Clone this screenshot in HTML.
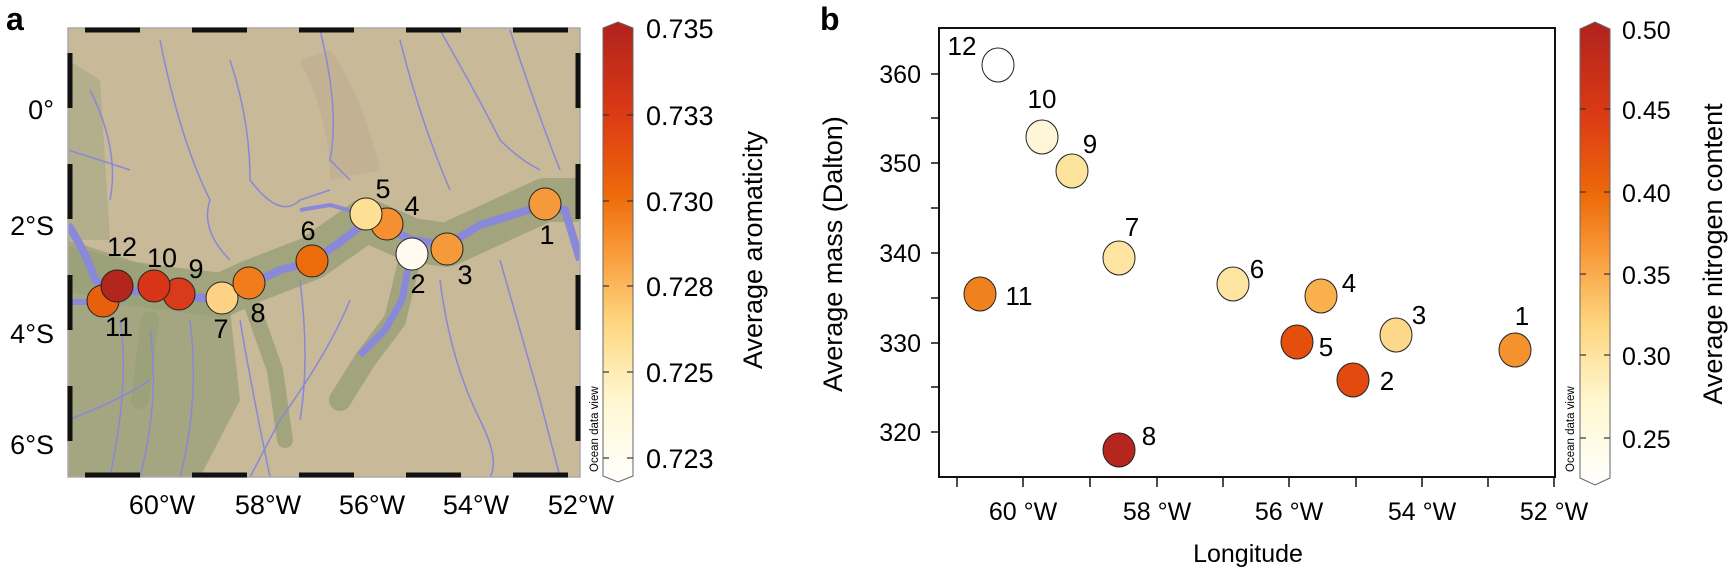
<!DOCTYPE html>
<html><head><meta charset="utf-8"><style>
html,body{margin:0;padding:0;background:#fff;}
svg{display:block;font-family:"Liberation Sans",Arial,sans-serif;}
</style></head><body>
<svg width="1734" height="568" viewBox="0 0 1734 568" xmlns="http://www.w3.org/2000/svg">
<defs>
<linearGradient id="cb" x1="0" y1="1" x2="0" y2="0">
<stop offset="0" stop-color="#ffffff"/>
<stop offset="0.18" stop-color="#fff7d0"/>
<stop offset="0.35" stop-color="#fed57e"/>
<stop offset="0.5" stop-color="#f99a3a"/>
<stop offset="0.62" stop-color="#ee6c0a"/>
<stop offset="0.8" stop-color="#dc3a14"/>
<stop offset="1" stop-color="#b0221e"/>
</linearGradient>
<clipPath id="mapclip"><rect x="68" y="28" width="512" height="449"/></clipPath>
</defs>

<!-- Panel a -->
<text x="6" y="30" font-size="32" font-weight="bold">a</text>
<g clip-path="url(#mapclip)">
<rect x="68" y="28" width="512" height="449" fill="#c8b998"/>
<path d="M300 60 Q330 120 330 180 L380 170 Q360 90 330 50 Z" fill="#b8a58a" opacity="0.4"/>
<path d="M68 240 L130 260 L190 285 L230 310 L240 400 L200 477 L68 477 Z" fill="#9ea27c" opacity="0.85"/>
<path d="M68 60 L100 80 L110 240 L68 240 Z" fill="#a5a683" opacity="0.6"/>
<g opacity="0.8" fill="none" stroke="#99a077" stroke-linejoin="round" stroke-linecap="round">
<path d="M68 268 L120 282 L180 290 L222 295 L250 282 L312 258 L366 220 L412 240 L447 245 L545 200 L580 200" stroke-width="44"/>
<path d="M412 250 L395 320 L365 360 L340 400" stroke-width="22"/>
<path d="M250 300 L275 370 L285 440" stroke-width="16"/>
<path d="M150 320 L140 400" stroke-width="18"/>
</g>
<g fill="none" stroke="#8888d8" stroke-width="1.5">
<path d="M90 90 Q120 150 110 200 M160 40 Q180 140 210 200 Q200 230 230 260 M230 60 Q250 120 250 180 Q280 220 300 200 L330 190 M320 30 Q340 110 330 160 L350 180 M400 40 Q420 120 450 190 M440 30 Q480 100 500 140 Q520 160 540 170 M510 30 Q540 120 560 170 M120 320 Q130 380 110 477 M150 330 Q160 400 140 477 M190 320 Q200 400 180 477 M240 320 Q250 380 270 477 M300 280 Q310 360 300 420 M440 280 Q450 360 480 420 Q500 460 490 477 M500 260 Q520 330 540 400 L560 477 M350 300 Q330 350 280 420 L250 477 M68 150 Q100 160 130 170 M68 420 Q120 400 150 380"/>
</g>
<path d="M68 225 Q85 250 95 280 L117 290 L150 292 L180 296 L222 300 L250 285 L280 270 L312 262 L340 242 L366 222 L387 228 L412 240 L447 245 L480 225 L545 205 L565 210 L580 260" fill="none" stroke="#8a88d8" stroke-width="8" stroke-linejoin="round"/>
<path d="M68 302 L100 302 L117 292" fill="none" stroke="#8a88d8" stroke-width="6"/>
<path d="M412 248 L402 300 L385 330 L360 355" fill="none" stroke="#8a88d8" stroke-width="7"/>
<path d="M300 210 L330 205 L366 215" fill="none" stroke="#8a88d8" stroke-width="4"/>
</g>
<rect x="68" y="28" width="512" height="449" fill="none" stroke="#aaa" stroke-width="1.5"/>
<g stroke="#111" stroke-width="5" fill="none">
<line x1="68" y1="30" x2="580" y2="30" stroke-dasharray="55 52" stroke-dashoffset="-17"/>
<line x1="68" y1="475" x2="580" y2="475" stroke-dasharray="55 52" stroke-dashoffset="-17"/>
<line x1="70" y1="28" x2="70" y2="477" stroke-dasharray="55 56" stroke-dashoffset="-25"/>
<line x1="578" y1="28" x2="578" y2="477" stroke-dasharray="55 56" stroke-dashoffset="-25"/>
</g>
<g font-size="27" text-anchor="end">
<text x="54" y="119">0°</text>
<text x="54" y="235">2°S</text>
<text x="54" y="343">4°S</text>
<text x="54" y="454">6°S</text>
</g>
<g font-size="27" text-anchor="middle">
<text x="162" y="514">60°W</text>
<text x="268" y="514">58°W</text>
<text x="372" y="514">56°W</text>
<text x="476" y="514">54°W</text>
<text x="581" y="514">52°W</text>
</g>
<g stroke="#222" stroke-width="1">
<circle cx="103" cy="301" r="16" fill="#e8600e"/>
<circle cx="117" cy="286" r="16" fill="#b2261e"/>
<circle cx="179" cy="294" r="16" fill="#d93a1a"/>
<circle cx="154" cy="286" r="16" fill="#d83418"/>
<circle cx="222" cy="298" r="16" fill="#fdd284"/>
<circle cx="249" cy="283" r="16" fill="#f07c1c"/>
<circle cx="312" cy="261" r="16" fill="#ec6c0c"/>
<circle cx="387" cy="224" r="16" fill="#f59030"/>
<circle cx="366" cy="214" r="16" fill="#fde093"/>
<circle cx="412" cy="254" r="16" fill="#fffbf0"/>
<circle cx="447" cy="249" r="16" fill="#f59a3a"/>
<circle cx="545" cy="204" r="16" fill="#f59a3a"/>
</g>
<g font-size="27" text-anchor="middle">
<text x="122" y="256">12</text>
<text x="162" y="267">10</text>
<text x="196" y="278">9</text>
<text x="119" y="336">11</text>
<text x="221" y="338">7</text>
<text x="258" y="322">8</text>
<text x="308" y="240">6</text>
<text x="383" y="198">5</text>
<text x="412" y="215">4</text>
<text x="418" y="293">2</text>
<text x="465" y="284">3</text>
<text x="547" y="244">1</text>
</g>
<!-- colorbar a -->
<path d="M603 28 L618 22 L633 28 L633 476 L618 482 L603 476 Z" fill="url(#cb)" stroke="#666" stroke-width="1"/>
<g stroke="#333" stroke-width="1.2">
<line x1="603" y1="115" x2="609" y2="115"/><line x1="627" y1="115" x2="633" y2="115"/>
<line x1="603" y1="201" x2="609" y2="201"/><line x1="627" y1="201" x2="633" y2="201"/>
<line x1="603" y1="286" x2="609" y2="286"/><line x1="627" y1="286" x2="633" y2="286"/>
<line x1="603" y1="372" x2="609" y2="372"/><line x1="627" y1="372" x2="633" y2="372"/>
<line x1="603" y1="458" x2="609" y2="458"/><line x1="627" y1="458" x2="633" y2="458"/>
</g>
<g font-size="27">
<text x="646" y="38">0.735</text>
<text x="646" y="125">0.733</text>
<text x="646" y="211">0.730</text>
<text x="646" y="296">0.728</text>
<text x="646" y="382">0.725</text>
<text x="646" y="468">0.723</text>
</g>
<text transform="translate(762,250) rotate(-90)" font-size="27" text-anchor="middle">Average aromaticity</text>
<text transform="translate(598,472) rotate(-90)" font-size="11.5">Ocean data view</text>

<!-- Panel b -->
<text x="820" y="30" font-size="32" font-weight="bold">b</text>
<rect x="939" y="28" width="616" height="449" fill="none" stroke="#111" stroke-width="2"/>
<g stroke="#111" stroke-width="1.5">
<line x1="931" y1="74" x2="939" y2="74"/>
<line x1="931" y1="118" x2="939" y2="118"/>
<line x1="931" y1="163" x2="939" y2="163"/>
<line x1="931" y1="208" x2="939" y2="208"/>
<line x1="931" y1="253" x2="939" y2="253"/>
<line x1="931" y1="298" x2="939" y2="298"/>
<line x1="931" y1="343" x2="939" y2="343"/>
<line x1="931" y1="387" x2="939" y2="387"/>
<line x1="931" y1="432" x2="939" y2="432"/>
<line x1="957" y1="477" x2="957" y2="487"/>
<line x1="1023" y1="477" x2="1023" y2="487"/>
<line x1="1090" y1="477" x2="1090" y2="487"/>
<line x1="1157" y1="477" x2="1157" y2="487"/>
<line x1="1223" y1="477" x2="1223" y2="487"/>
<line x1="1289" y1="477" x2="1289" y2="487"/>
<line x1="1356" y1="477" x2="1356" y2="487"/>
<line x1="1422" y1="477" x2="1422" y2="487"/>
<line x1="1488" y1="477" x2="1488" y2="487"/>
<line x1="1554" y1="477" x2="1554" y2="487"/>
</g>
<g font-size="25" text-anchor="end">
<text x="921" y="83">360</text>
<text x="921" y="172">350</text>
<text x="921" y="262">340</text>
<text x="921" y="352">330</text>
<text x="921" y="441">320</text>
</g>
<g font-size="25" text-anchor="middle">
<text x="1023" y="520">60 °W</text>
<text x="1157" y="520">58 °W</text>
<text x="1289" y="520">56 °W</text>
<text x="1422" y="520">54 °W</text>
<text x="1554" y="520">52 °W</text>
</g>
<text x="1248" y="562" font-size="25" text-anchor="middle">Longitude</text>
<text transform="translate(842,254) rotate(-90)" font-size="27" text-anchor="middle">Average mass (Dalton)</text>
<g stroke="#222" stroke-width="1">
<ellipse cx="998" cy="65" rx="16" ry="17" fill="#ffffff"/>
<ellipse cx="1042" cy="137" rx="16" ry="17" fill="#fff6d8"/>
<ellipse cx="1072" cy="171" rx="16" ry="17" fill="#fde49e"/>
<ellipse cx="1119" cy="258" rx="16" ry="17" fill="#fde4a0"/>
<ellipse cx="980" cy="294" rx="16" ry="17" fill="#f0821e"/>
<ellipse cx="1233" cy="284" rx="16" ry="17" fill="#fde4a0"/>
<ellipse cx="1321" cy="296" rx="16" ry="17" fill="#fbb04e"/>
<ellipse cx="1297" cy="342" rx="16" ry="17" fill="#e4500c"/>
<ellipse cx="1396" cy="335" rx="16" ry="17" fill="#fdd88a"/>
<ellipse cx="1353" cy="380" rx="16" ry="17" fill="#e24a10"/>
<ellipse cx="1515" cy="350" rx="16" ry="17" fill="#f4922e"/>
<ellipse cx="1119" cy="450" rx="16" ry="17" fill="#b4261e"/>
</g>
<g font-size="26" text-anchor="middle">
<text x="962" y="55">12</text>
<text x="1042" y="108">10</text>
<text x="1090" y="153">9</text>
<text x="1132" y="236">7</text>
<text x="1019" y="305">11</text>
<text x="1257" y="278">6</text>
<text x="1349" y="292">4</text>
<text x="1326" y="356">5</text>
<text x="1419" y="324">3</text>
<text x="1387" y="390">2</text>
<text x="1522" y="325">1</text>
<text x="1149" y="445">8</text>
</g>
<!-- colorbar b -->
<path d="M1580 29 L1595 22 L1610 29 L1610 478 L1595 485 L1580 478 Z" fill="url(#cb)" stroke="#666" stroke-width="1"/>
<g stroke="#333" stroke-width="1.2">
<line x1="1580" y1="109" x2="1586" y2="109"/><line x1="1604" y1="109" x2="1610" y2="109"/>
<line x1="1580" y1="192" x2="1586" y2="192"/><line x1="1604" y1="192" x2="1610" y2="192"/>
<line x1="1580" y1="274" x2="1586" y2="274"/><line x1="1604" y1="274" x2="1610" y2="274"/>
<line x1="1580" y1="355" x2="1586" y2="355"/><line x1="1604" y1="355" x2="1610" y2="355"/>
<line x1="1580" y1="438" x2="1586" y2="438"/><line x1="1604" y1="438" x2="1610" y2="438"/>
</g>
<g font-size="25">
<text x="1622" y="39">0.50</text>
<text x="1622" y="119">0.45</text>
<text x="1622" y="202">0.40</text>
<text x="1622" y="284">0.35</text>
<text x="1622" y="365">0.30</text>
<text x="1622" y="448">0.25</text>
</g>
<text transform="translate(1722,254) rotate(-90)" font-size="27" text-anchor="middle">Average nitrogen content</text>
<text transform="translate(1574,472) rotate(-90)" font-size="11.5">Ocean data view</text>
</svg>
</body></html>
